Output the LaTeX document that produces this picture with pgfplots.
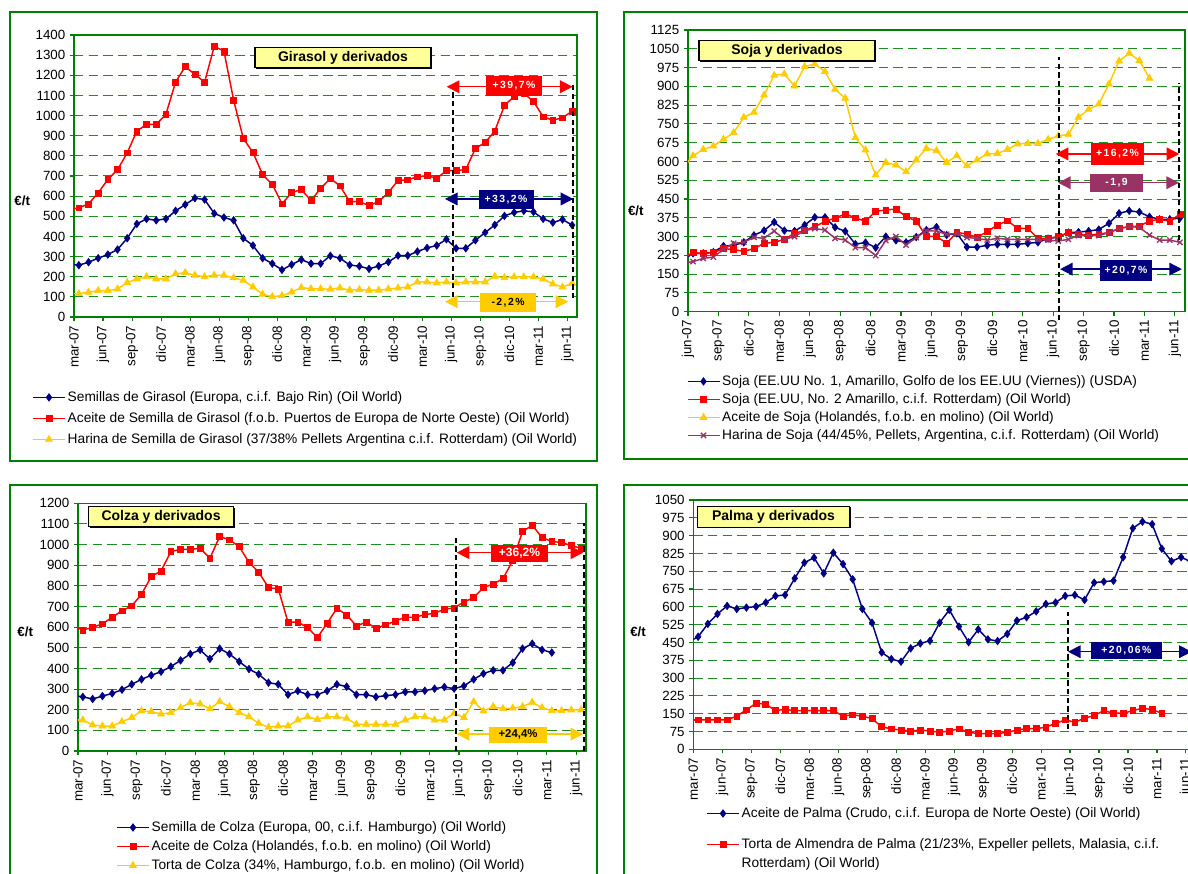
\documentclass[border=0pt]{standalone}
\usepackage{fontspec}
\setmainfont{Liberation Sans}
\newfontfamily\lblfont{Liberation Sans}[LetterSpace=14]
\usepackage{pgfplots}
\pgfplotsset{compat=1.18}
\usetikzlibrary{arrows.meta,shadows}
\definecolor{gr}{RGB}{0,128,0}
\definecolor{gridc}{RGB}{30,140,30}
\definecolor{navy}{RGB}{0,0,128}
\definecolor{rd}{RGB}{255,0,0}
\definecolor{yl}{RGB}{255,204,0}
\definecolor{pu}{RGB}{153,51,102}
\definecolor{lt}{RGB}{255,255,153}

\tikzset{
  dbl/.style={line width=1.1pt, {Triangle[length=9.5pt,width=9.5pt]}-{Triangle[length=9.5pt,width=9.5pt]}},
  vdash/.style={black, line width=1.5pt, dash pattern=on 4pt off 2.5pt},
  lbl/.style={inner sep=0pt, font=\lblfont\bfseries\fontsize{7.8}{9}\selectfont},
  ttl/.style={fill=lt, draw=black, line width=0.8pt, inner sep=0pt, font=\bfseries\fontsize{10.5}{12}\selectfont,
    drop shadow={shadow xshift=1pt, shadow yshift=-1pt, fill=black, opacity=1}},
  eut/.style={font=\bfseries\fontsize{10}{12}\selectfont},
}

\pgfplotsset{
  /pgfplots/table/tb/.style={header=false, x expr=\coordindex+0.5, y index=0, row sep=\\},
  panel/.style={
    scale only axis, anchor=south west,
    clip mode=individual,
    axis line style={gr, line width=1.1pt},
    tick style={gr, line width=0.8pt},
    major tick length=3pt,
    tick align=outside, tick pos=left,
    ymajorgrids, grid style={gridc, line width=0.75pt, dash pattern=on 7pt off 4pt},
    tick label style={font=\fontsize{10}{12}\selectfont},
    /pgf/number format/assume math mode=true,
    /pgf/number format/1000 sep={},
    xticklabel style={rotate=90, anchor=east},
    ymin=0,
    legend cell align=left,
    legend image code/.code={\draw[mark repeat=2,mark phase=2,##1] plot coordinates {(0pt,0pt) (12pt,0pt) (24pt,0pt)};},
    legend style={draw=none, fill=none, anchor=north west, font=\fontsize{10.3}{12}\selectfont,
      inner sep=0pt, nodes={inner sep=1.5pt, text height=7.5pt, text depth=2pt}},
  },
  snav/.style={color=navy, line width=1.1pt, mark=diamond*, mark size=2.8pt, mark options={solid, line width=0.5pt}},
  sred/.style={color=rd, line width=1.1pt, mark=square*, mark size=2.2pt, mark options={solid, line width=0.5pt}},
  syel/.style={color=yl, line width=1.1pt, mark=triangle*, mark size=3pt, mark options={solid, line width=0.5pt}},
  spur/.style={color=pu, line width=1.1pt, mark=x, mark size=2.8pt, mark options={solid, line width=1pt}},
  ext/.style={line width=1.1pt, forget plot, no marks},
  monthsA/.style={xmin=0, xmax=52, xtick={0,3,...,51},
    xticklabels={mar-07,jun-07,sep-07,dic-07,mar-08,jun-08,sep-08,dic-08,mar-09,jun-09,sep-09,dic-09,mar-10,jun-10,sep-10,dic-10,mar-11,jun-11}},
}

\begin{document}
\begin{tikzpicture}
\useasboundingbox (0,0) rectangle (891pt,655.5pt);
\clip (0,0) rectangle (891pt,655.5pt);

% panel frames
\begin{scope}[x=0.75pt,y=0.75pt]
\draw[gr, line width=1.5pt] (10,413) rectangle (597,862);
\draw[gr, line width=1.5pt] (624,415) rectangle (1194,862);
\draw[gr, line width=1.5pt] (10,-6) rectangle (597,389);
\draw[gr, line width=1.5pt] (624,-6) rectangle (1194,389);
\end{scope}

% ---------------- Girasol ----------------
\begin{axis}[panel, monthsA,
  at={(55.5pt,417.75pt)}, width=377.25pt, height=211.5pt,
  ymax=1400, ytick distance=100,
  legend style={at={(axis description cs:-0.0835,-0.2546)}, row sep=3.25pt},
]
\addplot[ext, navy] coordinates {(-0.5,263) (0.5,257)};
\addplot[snav] table[tb] {257\\272\\292\\310\\335\\391\\462\\487\\480\\487\\527\\558\\590\\583\\514\\494\\480\\391\\355\\292\\265\\234\\260\\285\\265\\265\\304\\292\\258\\252\\239\\253\\273\\305\\305\\325\\343\\355\\386\\341\\341\\381\\419\\457\\502\\519\\527\\522\\487\\469\\484\\456\\};
\addlegendentry{Semillas de Girasol (Europa, c.i.f. Bajo Rin) (Oil World)}
\addplot[ext, rd] coordinates {(-0.5,534) (0.5,542)};
\addplot[sred] table[tb] {542\\561\\616\\683\\731\\815\\923\\956\\956\\1006\\1166\\1243\\1204\\1166\\1344\\1320\\1077\\886\\817\\707\\658\\562\\618\\632\\579\\638\\688\\651\\573\\573\\553\\573\\618\\678\\681\\696\\702\\688\\727\\727\\732\\837\\866\\923\\1050\\1095\\1110\\1070\\994\\977\\989\\1022\\};
\addlegendentry{Aceite de Semilla de Girasol (f.o.b. Puertos de Europa de Norte Oeste) (Oil World)}
\addplot[ext, yl] coordinates {(-0.5,116) (0.5,116)};
\addplot[syel] table[tb] {116\\123\\131\\131\\139\\171\\189\\200\\189\\189\\214\\220\\207\\200\\207\\207\\194\\182\\149\\113\\101\\106\\124\\146\\140\\140\\138\\144\\133\\136\\133\\133\\139\\144\\149\\174\\174\\169\\174\\169\\174\\174\\174\\202\\195\\199\\199\\199\\189\\164\\149\\167\\};
\addlegendentry{Harina de Semilla de Girasol (37/38\% Pellets Argentina c.i.f. Rotterdam) (Oil World)}
\draw[vdash] (axis cs:39.21,99) -- (axis cs:39.21,1115);
\draw[vdash] (axis cs:51.62,92) -- (axis cs:51.62,1160);
\draw[dbl, rd] (axis cs:38.53,1143) -- (axis cs:51.55,1143);
\node[lbl, fill=rd, text=white, minimum width=42pt, minimum height=15pt] at (axis cs:45.49,1147) {+39,7\%};
\draw[dbl, navy] (axis cs:38.35,586) -- (axis cs:51.62,586);
\node[lbl, fill=navy, text=white, minimum width=41.25pt, minimum height=14.25pt] at (axis cs:44.66,583) {+33,2\%};
\draw[dbl, yl] (axis cs:38.35,76) -- (axis cs:51.1,76);
\node[lbl, fill=yl, text=black, minimum width=42pt, minimum height=14.25pt] at (axis cs:44.87,72) {-2,2\%};
\node[ttl, minimum width=132pt, minimum height=15pt] at (axis cs:27.81,1286) {Girasol y derivados};
\node[eut] at (rel axis cs:-0.103,0.411) {€/t};
\end{axis}

% ---------------- Soja ----------------
\begin{axis}[panel,
  at={(516pt,421.725pt)}, width=372.75pt, height=211.275pt,
  xmin=0, xmax=49, xtick={0,3,...,48},
  xticklabels={jun-07,sep-07,dic-07,mar-08,jun-08,sep-08,dic-08,mar-09,jun-09,sep-09,dic-09,mar-10,jun-10,sep-10,dic-10,mar-11,jun-11},
  ymax=1125, ytick={0,75,...,1125},
  legend style={at={(axis description cs:-0.003,-0.217)}, row sep=1pt},
]
\addplot[ext, navy] coordinates {(-0.5,207) (0.5,233)};
\addplot[snav] table[tb] {233\\233\\238\\262\\265\\277\\305\\324\\358\\324\\322\\346\\377\\377\\337\\321\\270\\276\\256\\300\\285\\277\\298\\326\\338\\306\\313\\258\\258\\265\\269\\269\\269\\273\\277\\292\\298\\316\\318\\322\\328\\353\\393\\403\\398\\379\\369\\369\\374\\};
\addlegendentry{Soja (EE.UU No. 1, Amarillo, Golfo de los EE.UU (Viernes)) (USDA)}
\addplot[ext, rd] coordinates {(-0.5,214) (0.5,236)};
\addplot[sred] table[tb] {236\\232\\236\\252\\248\\241\\252\\273\\277\\289\\313\\324\\340\\360\\374\\390\\375\\361\\401\\406\\410\\380\\362\\300\\301\\273\\317\\310\\297\\320\\346\\363\\333\\333\\292\\293\\300\\316\\310\\306\\310\\316\\332\\340\\342\\362\\369\\361\\390\\};
\addlegendentry{Soja (EE.UU, No. 2 Amarillo, c.i.f. Rotterdam) (Oil World)}
\addplot[ext, yl] coordinates {(-0.5,575) (0.5,623)};
\addplot[syel] table[tb] {623\\648\\662\\688\\715\\776\\796\\865\\944\\949\\901\\979\\989\\959\\888\\852\\695\\646\\546\\596\\586\\559\\606\\652\\643\\596\\623\\583\\606\\630\\632\\648\\670\\672\\672\\688\\702\\708\\776\\808\\829\\909\\1001\\1032\\1003\\932\\};
\addlegendentry{Aceite de Soja (Holandés, f.o.b. en molino) (Oil World)}
\addplot[ext, pu] coordinates {(-0.5,194) (0.5,200)};
\addplot[spur] table[tb] {200\\213\\218\\249\\273\\277\\297\\293\\322\\289\\300\\324\\332\\326\\293\\286\\256\\256\\224\\284\\300\\266\\296\\323\\322\\309\\313\\296\\293\\286\\293\\289\\289\\289\\289\\286\\282\\289\\304\\304\\304\\316\\332\\340\\337\\306\\286\\286\\277\\};
\addlegendentry{Harina de Soja (44/45\%, Pellets, Argentina, c.i.f. Rotterdam) (Oil World)}
\draw[vdash] (axis cs:36.58,-35) -- (axis cs:36.58,1017);
\draw[vdash] (axis cs:48.44,286) -- (axis cs:48.44,915);
\draw[dbl, rd] (axis cs:36.25,630) -- (axis cs:48.44,630);
\node[lbl, fill=rd, text=white, minimum width=39.75pt, minimum height=16.5pt] at (axis cs:42.35,630) {+16,2\%};
\draw[dbl, pu] (axis cs:36.48,515) -- (axis cs:48.41,515);
\node[lbl, fill=pu, text=white, minimum width=39.75pt, minimum height=13.5pt] at (axis cs:42.25,514) {-1,9};
\draw[dbl, navy] (axis cs:36.68,170) -- (axis cs:48.7,170);
\node[lbl, fill=navy, text=white, minimum width=39pt, minimum height=15.75pt] at (axis cs:43.18,165) {+20,7\%};
\node[ttl, minimum width=132pt, minimum height=15pt] at (axis cs:9.76,1042) {Soja y derivados};
\node[eut] at (rel axis cs:-0.105,0.357) {€/t};
\end{axis}

% ---------------- Colza ----------------
\begin{axis}[panel, monthsA,
  at={(58.5pt,92.25pt)}, width=381pt, height=185.775pt,
  ymax=1200, ytick distance=100,
  legend style={at={(axis description cs:0.0748,-0.274)}, row sep=1.75pt},
]
\addplot[ext, navy] coordinates {(-0.5,270) (0.5,262)};
\addplot[snav] table[tb] {262\\252\\266\\279\\297\\323\\347\\367\\384\\409\\439\\470\\490\\446\\496\\470\\433\\397\\372\\331\\323\\273\\291\\273\\273\\291\\323\\312\\273\\273\\262\\268\\273\\286\\286\\292\\302\\310\\302\\315\\347\\375\\391\\391\\428\\496\\520\\490\\477\\};
\addlegendentry{Semilla de Colza (Europa, 00, c.i.f. Hamburgo) (Oil World)}
\addplot[ext, rd] coordinates {(-0.5,604) (0.5,586)};
\addplot[sred] table[tb] {586\\599\\616\\648\\679\\703\\759\\845\\872\\966\\977\\977\\982\\934\\1039\\1023\\990\\914\\866\\792\\785\\624\\624\\599\\549\\619\\691\\659\\606\\624\\595\\611\\630\\648\\648\\661\\667\\687\\693\\722\\743\\792\\809\\835\\922\\1063\\1094\\1034\\1015\\1010\\995\\982\\};
\addlegendentry{Aceite de Colza (Holandés, f.o.b. en molino) (Oil World)}
\addplot[ext, yl] coordinates {(-0.5,150) (0.5,150)};
\addplot[syel] table[tb] {150\\126\\121\\121\\142\\162\\194\\191\\179\\186\\210\\234\\228\\204\\239\\215\\186\\166\\134\\115\\121\\121\\150\\166\\153\\166\\166\\158\\129\\129\\129\\129\\129\\150\\166\\166\\150\\150\\183\\162\\239\\194\\215\\205\\208\\215\\236\\210\\195\\195\\199\\199\\};
\addlegendentry{Torta de Colza (34\%, Hamburgo, f.o.b. en molino) (Oil World)}
\draw[vdash] (axis cs:38.69,0) -- (axis cs:38.69,1038);
\draw[vdash] (axis cs:51.79,0) -- (axis cs:51.79,1105);
\draw[dbl, rd] (axis cs:38.76,961) -- (axis cs:51.72,961);
\node[inner sep=0pt, font=\bfseries\fontsize{9}{10}\selectfont, fill=rd, text=white, minimum width=42.75pt, minimum height=12.75pt] at (axis cs:45.19,957) {+36,2\%};
\draw[dbl, yl] (axis cs:38.76,82) -- (axis cs:51.72,82);
\node[inner sep=0pt, font=\bfseries\fontsize{8.5}{10}\selectfont, fill=yl, text=black, minimum width=43.5pt, minimum height=12pt] at (axis cs:45.04,78) {+24,4\%};
\node[ttl, minimum width=108.75pt, minimum height=15pt] at (axis cs:8.5,1134) {Colza y derivados};
\node[eut] at (rel axis cs:-0.104,0.480) {€/t};
\end{axis}

% ---------------- Palma ----------------
\begin{axis}[panel, monthsA,
  at={(519.975pt,93.525pt)}, width=376.725pt, height=186.975pt,
  ymax=1050, ytick={0,75,...,1050},
  legend style={at={(axis description cs:0.0253,-0.223)}, row sep=10.75pt},
]
\addplot[ext, navy] coordinates {(-0.5,452) (0.5,474)};
\addplot[snav] table[tb] {474\\528\\570\\604\\591\\597\\601\\618\\646\\650\\720\\786\\807\\741\\828\\780\\716\\591\\533\\408\\380\\369\\425\\446\\457\\533\\587\\517\\451\\505\\463\\456\\486\\542\\556\\581\\612\\618\\646\\650\\629\\702\\706\\710\\809\\931\\959\\948\\845\\792\\809\\790\\};
\addlegendentry{Aceite de Palma (Crudo, c.i.f. Europa de Norte Oeste) (Oil World)}
\addplot[ext, rd] coordinates {(-0.5,124) (0.5,124)};
\addplot[sred] table[tb] {124\\124\\124\\124\\140\\166\\194\\190\\163\\168\\163\\163\\163\\163\\163\\140\\145\\140\\129\\95\\86\\81\\77\\81\\77\\72\\77\\86\\72\\66\\66\\66\\72\\81\\87\\87\\93\\109\\124\\114\\131\\142\\163\\152\\152\\163\\173\\167\\152\\};
\addlegendentry{\begin{tabular}[t]{@{}l@{}}Torta de Almendra de Palma (21/23\%, Expeller pellets, Malasia, c.i.f.\\[2.2pt]Rotterdam) (Oil World)\end{tabular}}
\draw[vdash] (axis cs:38.82,85) -- (axis cs:38.82,580);
\draw[dbl, navy] (axis cs:38.79,411) -- (axis cs:51.6,411);
\node[lbl, fill=navy, text=white, minimum width=53.25pt, minimum height=12.75pt] at (axis cs:44.84,416) {+20,06\%};
\node[ttl, minimum width=114pt, minimum height=15.75pt] at (axis cs:8.30,980) {Palma y derivados};
\node[eut] at (rel axis cs:-0.110,0.470) {€/t};
\end{axis}
\end{tikzpicture}
\end{document}
